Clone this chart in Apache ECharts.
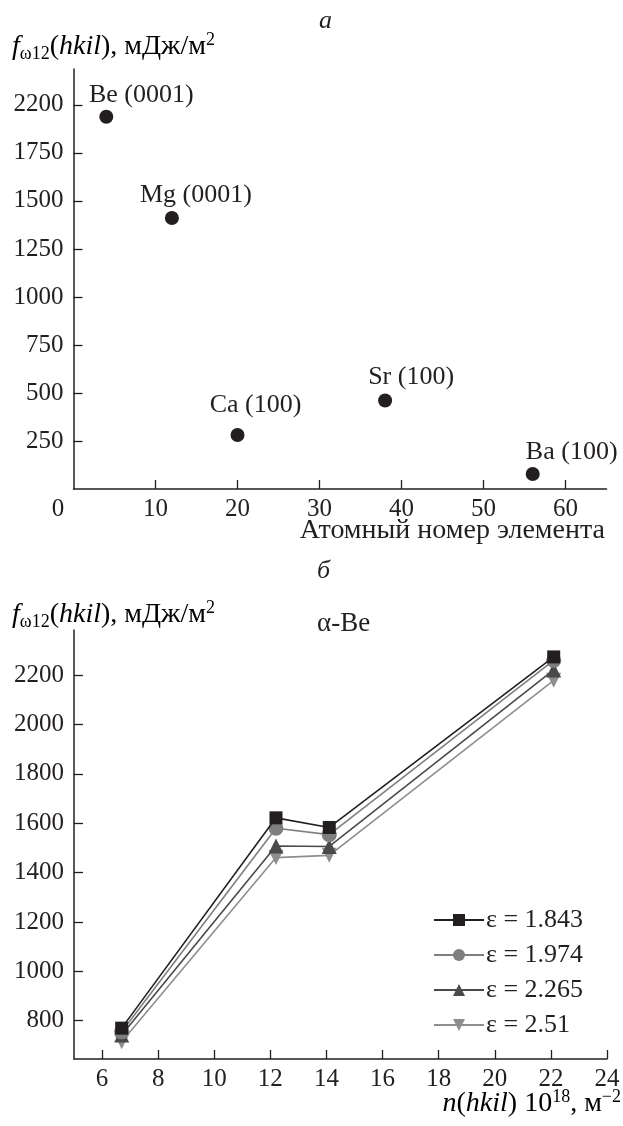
<!DOCTYPE html>
<html>
<head>
<meta charset="utf-8">
<script src="https://cdn.jsdelivr.net/npm/echarts@6/dist/echarts.min.js"></script>
<style>
html,body{margin:0;padding:0;background:#fff;}
#chart{width:623px;height:1126px;}
</style>
</head>
<body>
<div id="chart"></div>
<script>
// ---- Panel а data ----
const atomicNumbers = [4, 12, 20, 38, 56];
const surfaceEnergyA = [1938, 1411, 281, 461, 78];
const faceLabels = ['Be (0001)', 'Mg (0001)', 'Ca (100)', 'Sr (100)', 'Ba (100)'];
const xTickValuesA = [0, 10, 20, 30, 40, 50, 60];
const yTickValuesA = [250, 500, 750, 1000, 1250, 1500, 1750, 2000];
const yTickLabelsA = ['250', '500', '750', '1000', '1250', '1500', '1750', '2200'];

// ---- Panel б data ----
const nValues = [6.7, 12.2, 14.1, 22.1];
const seriesNamesB = ['ε = 1.843', 'ε = 1.974', 'ε = 2.265', 'ε = 2.51'];
const eps1843 = [770, 1622, 1583, 2274];
const eps1974 = [755, 1580, 1554, 2260];
const eps2265 = [742, 1508, 1506, 2221];
const eps251 = [715, 1461, 1470, 2179];
const xTickValuesB = [6, 8, 10, 12, 14, 16, 18, 20, 22, 24];
const yTickValuesB = [800, 1000, 1200, 1400, 1600, 1800, 2000, 2200];

// ---- layout/styling (not data) ----
const FONT = '"Liberation Serif", "DejaVu Serif", serif';
const INK = '#231f20';
const FS = 25;
const FN = 28;
const labelOffsetsA = [[35, -22], [24, -23], [18, -30], [26, -23], [39, -22]];
const bStyles = [
  {color: '#231f20', symbol: 'rect', size: 13, rotate: 0},
  {color: '#7f7f7f', symbol: 'circle', size: 15, rotate: 0},
  {color: '#4a4a4a', symbol: 'triangle', size: 15, rotate: 0},
  {color: '#8e8e8e', symbol: 'triangle', size: 15, rotate: 180}
];
const seriesValuesB = [eps1843, eps1974, eps2265, eps251];

const chart = echarts.init(document.getElementById('chart'), null, {renderer: 'canvas'});

const axisCommon = {
  axisLine: {show: true, lineStyle: {color: INK, width: 1.5}},
  axisTick: {show: true, inside: true, length: 9, lineStyle: {color: INK, width: 1.3}},
  splitLine: {show: false},
  axisLabel: {color: INK, fontFamily: FONT, fontSize: FS}
};

const richMain = {
  it: {fontFamily: FONT, fontSize: FN, fontStyle: 'italic', color: INK, lineHeight: 32, verticalAlign: 'middle'},
  r: {fontFamily: FONT, fontSize: FN, color: INK, lineHeight: 32, verticalAlign: 'middle'},
  sub: {fontFamily: FONT, fontSize: 18, color: INK, lineHeight: 17, verticalAlign: 'bottom'},
  sup: {fontFamily: FONT, fontSize: 18, color: INK, lineHeight: 17, verticalAlign: 'top'}
};
const yNameText = '{it|f}{sub|ω12}{r|(}{it|hkil}{r|), мДж/м}{sup|2}';

const option = {
  backgroundColor: '#fff',
  animation: false,
  grid: [
    {left: 73.5, top: 69, width: 533, height: 420, containLabel: false},
    {left: 74, top: 630, width: 533, height: 429, containLabel: false}
  ],
  xAxis: [
    Object.assign({}, axisCommon, {
      gridIndex: 0, type: 'value', min: 0, max: 65,
      axisTick: Object.assign({}, axisCommon.axisTick, {customValues: xTickValuesA.slice(1)}),
      axisLabel: Object.assign({}, axisCommon.axisLabel, {
        customValues: xTickValuesA, margin: 8,
        formatter: v => v === 0 ? '{z|0}' : String(v),
        rich: {z: {fontFamily: FONT, fontSize: FS, color: INK, padding: [0, 31, 0, 0]}}
      })
    }),
    Object.assign({}, axisCommon, {
      gridIndex: 1, type: 'value', min: 5, max: 24,
      axisTick: Object.assign({}, axisCommon.axisTick, {customValues: xTickValuesB}),
      axisLabel: Object.assign({}, axisCommon.axisLabel, {customValues: xTickValuesB, margin: 8, formatter: v => String(v)})
    })
  ],
  yAxis: [
    Object.assign({}, axisCommon, {
      gridIndex: 0, type: 'value', min: 0, max: 2187,
      axisTick: Object.assign({}, axisCommon.axisTick, {customValues: yTickValuesA}),
      axisLabel: Object.assign({}, axisCommon.axisLabel, {
        customValues: yTickValuesA, margin: 10,
        formatter: v => yTickLabelsA[yTickValuesA.indexOf(v)] || ''
      })
    }),
    Object.assign({}, axisCommon, {
      gridIndex: 1, type: 'value', min: 645, max: 2383,
      axisTick: Object.assign({}, axisCommon.axisTick, {customValues: yTickValuesB}),
      axisLabel: Object.assign({}, axisCommon.axisLabel, {customValues: yTickValuesB, margin: 10, formatter: v => String(v)})
    })
  ],
  legend: {
    orient: 'vertical', left: 433, top: 907, itemWidth: 50, itemHeight: 15, itemGap: 9,
    padding: 0, data: seriesNamesB,
    textStyle: {fontFamily: FONT, fontSize: 26, color: INK, padding: [0, 0, 0, -3]}
  },
  series: [
    {
      type: 'scatter', xAxisIndex: 0, yAxisIndex: 0,
      symbol: 'circle', symbolSize: 14,
      itemStyle: {color: INK, opacity: 1},
      data: atomicNumbers.map((x, i) => ({
        value: [x, surfaceEnergyA[i]],
        label: {offset: labelOffsetsA[i]}
      })),
      label: {
        show: true, position: 'inside', fontFamily: FONT, fontSize: 26, color: INK,
        formatter: p => faceLabels[p.dataIndex]
      }
    }
  ].concat(seriesValuesB.map((vals, k) => ({
    type: 'line', name: seriesNamesB[k], xAxisIndex: 1, yAxisIndex: 1,
    data: nValues.map((x, i) => [x, vals[i]]),
    symbol: bStyles[k].symbol, symbolSize: bStyles[k].size, symbolRotate: bStyles[k].rotate,
    showAllSymbol: true,
    lineStyle: {color: bStyles[k].color, width: 1.6},
    itemStyle: {color: bStyles[k].color},
    z: 10 - k
  }))),
  graphic: [
    {type: 'text', left: 319, top: 8, style: {text: 'а', font: 'italic 26px "Liberation Serif", serif', fill: INK}},
    {type: 'text', left: 317, top: 558, style: {text: 'б', font: 'italic 26px "Liberation Serif", serif', fill: INK}},
    {type: 'text', left: 317, top: 610, style: {text: 'α-Be', font: '27px "Liberation Serif", serif', fill: INK}},
    {type: 'text', left: 12, top: 31, style: {text: yNameText, rich: richMain}},
    {type: 'text', left: 12, top: 599, style: {text: yNameText, rich: richMain}},
    {type: 'text', right: 18, top: 517, style: {text: 'Атомный номер элемента', font: FN + 'px "Liberation Serif", serif', fill: INK}},
    {type: 'text', right: 2, top: 1088, style: {text: '{it|n}{r|(}{it|hkil}{r|) 10}{sup|18}{r|, м}{sup|−2}', rich: richMain}}
  ]
};
chart.setOption(option);
</script>
</body>
</html>
